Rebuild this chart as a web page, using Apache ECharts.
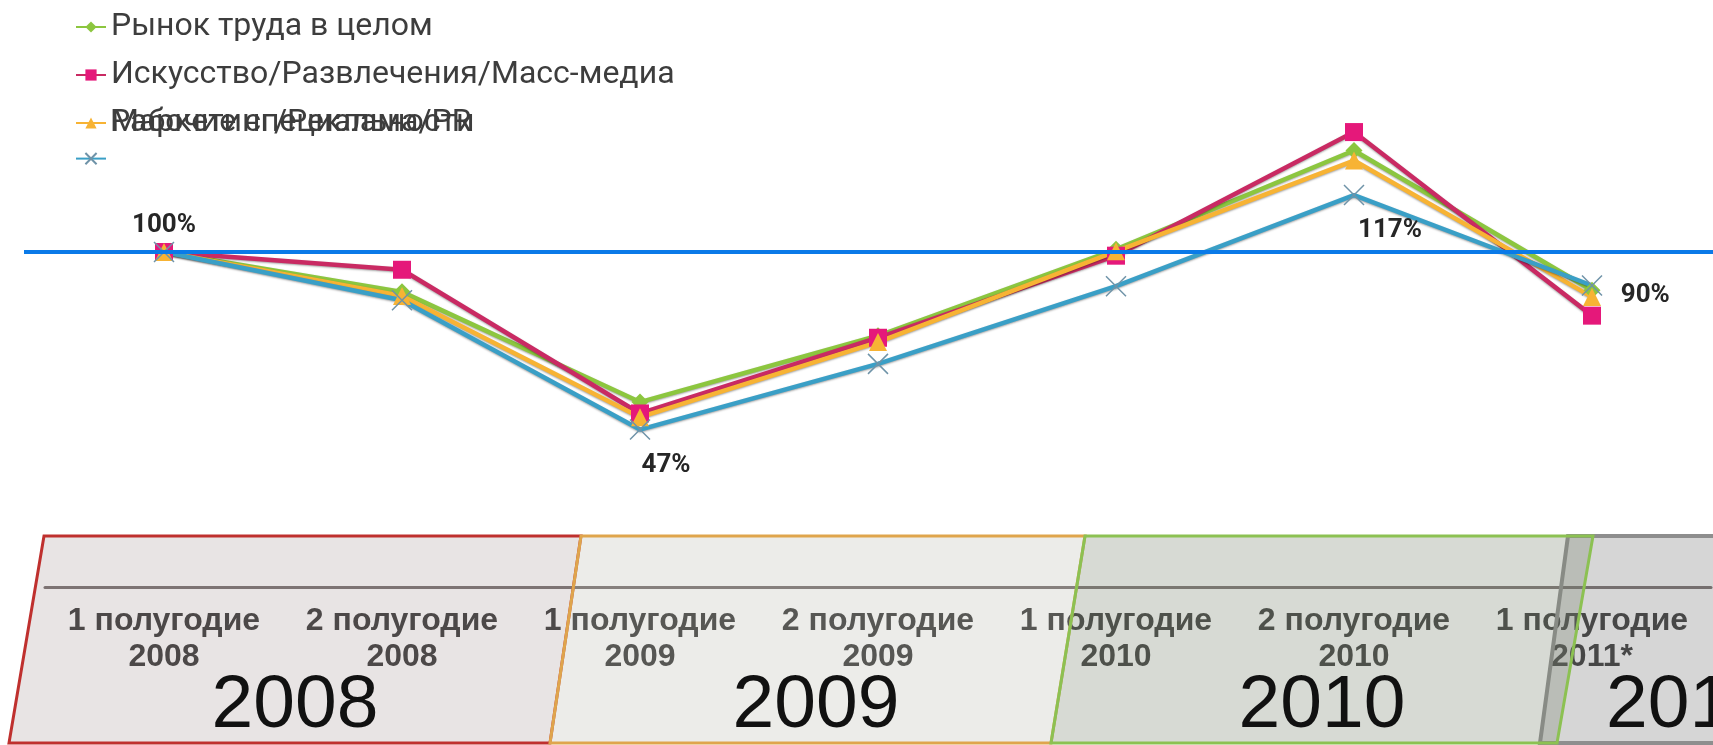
<!DOCTYPE html>
<html>
<head>
<meta charset="utf-8">
<script src="https://cdn.jsdelivr.net/npm/echarts@6/dist/echarts.min.js"></script>
<style>
  html, body { margin: 0; padding: 0; background: #fff; }
  #main { width: 1713px; height: 745px; }
</style>
</head>
<body>
<div id="main"></div>
<script>
// half-year periods on the x axis
const categories = ['1 полугодие\n2008', '2 полугодие\n2008', '1 полугодие\n2009', '2 полугодие\n2009',
                    '1 полугодие\n2010', '2 полугодие\n2010', '1 полугодие\n2011*'];
const seriesNames = ['Рынок труда в целом', 'Искусство/Развлечения/Масс-медиа',
                     'Маркетинг/Реклама/PR', 'Рабочие специальности'];
// index, 1 полугодие 2008 = 100%
const labourMarket = [100, 88.1, 55.2, 75.0, 100.8, 130.3, 88.6];
const artMedia     = [100, 94.7, 51.8, 74.4, 98.9, 135.8, 81.0];
const marketing    = [100, 86.9, 50.7, 73.1, 100.2, 127.3, 86.6];
const workers      = [100, 85.6, 47, 66.6, 89.8, 117, 90];
const baseLevel = 100;
const years = ['2008', '2009', '2010', '2011'];

const chart = echarts.init(document.getElementById('main'));

const yMin = 0, yMax = 150;
const gridTop = 84.5, gridBottom = 158;

// legend rows
const legTop = 3, legRowH = 38, legGap = 10;

// label placement for the points that carry a value
const labelPlace = {
  0: { position: 'top', distance: 3 },
  2: { position: 'bottom', distance: 12, offset: [26, 0] },
  5: { position: 'bottom', distance: 12, offset: [36, 0] },
  6: { position: 'right', distance: 18, offset: [0, 10] }
};

const workersData = workers.map((v, i) => {
  if (!labelPlace[i]) return v;
  return { value: v, label: Object.assign({ show: true }, labelPlace[i]) };
});

const xMark = 'path://M0,0L10,10M10,0L0,10';

function lineSeries(name, data, color, symbol, size, extra) {
  return Object.assign({
    name: name,
    type: 'line',
    data: data,
    xAxisIndex: 0,
    yAxisIndex: 0,
    symbol: symbol,
    symbolSize: size,
    lineStyle: { color: color, width: 4.5, shadowColor: 'rgba(0,0,0,0.35)', shadowBlur: 2, shadowOffsetY: 1 },
    itemStyle: { color: color },
    z: 3
  }, extra || {});
}

const panelFont = 'Liberation Sans, Arial, sans-serif';
const legendText = { fontFamily: 'Roboto', fontSize: 32, color: '#3d3d3d', lineHeight: legRowH };

chart.setOption({
  animation: false,
  backgroundColor: '#fff',
  legend: [
    {
      data: seriesNames,
      orient: 'vertical',
      left: 70,
      top: legTop,
      itemWidth: 30,
      itemHeight: 14,
      itemGap: legGap,
      selectedMode: false,
      formatter: function (name) { return name === seriesNames[3] ? '' : name; },
      textStyle: legendText
    },
    {
      // the 4th name is printed over the 3rd row, as in the original
      data: [seriesNames[3]],
      orient: 'vertical',
      left: 70,
      top: legTop + 2 * (legRowH + legGap),
      itemWidth: 30,
      itemHeight: 14,
      icon: 'none',
      selectedMode: false,
      textStyle: legendText
    }
  ],
  grid: [
    { left: 45, right: 2, top: gridTop, bottom: gridBottom },
    { left: 24, right: 0, top: gridTop, bottom: gridBottom }
  ],
  xAxis: [
    {
      type: 'category',
      data: categories,
      gridIndex: 0,
      axisLine: { show: true, lineStyle: { color: '#7a7272', width: 3 } },
      axisTick: { show: false },
      axisLabel: {
        interval: 0,
        margin: 16,
        fontFamily: panelFont,
        fontWeight: 'bold',
        fontSize: 32,
        lineHeight: 36,
        color: '#3c3c3c'
      },
      z: 0
    },
    { type: 'value', gridIndex: 1, min: 0, max: 1, show: false }
  ],
  yAxis: [
    { type: 'value', gridIndex: 0, min: yMin, max: yMax, show: false },
    { type: 'value', gridIndex: 1, min: yMin, max: yMax, show: false }
  ],
  series: [
    lineSeries(seriesNames[0], labourMarket, '#8cc63f', 'diamond', 17),
    lineSeries(seriesNames[1], artMedia, '#d9206f', 'rect', 18, { lineStyle: { color: '#c92a63', width: 4.5, shadowColor: 'rgba(0,0,0,0.35)', shadowBlur: 2, shadowOffsetY: 1 }, itemStyle: { color: '#e5187a' } }),
    lineSeries(seriesNames[2], marketing, '#f7b334', 'triangle', 18),
    lineSeries(seriesNames[3], workersData, '#3a9fc6', xMark, 20, {
      itemStyle: { color: '#3a9fc6', borderColor: '#6f93a8', borderWidth: 1.5 },
      label: { show: false, fontFamily: 'Roboto', fontSize: 26, fontWeight: 'bold', color: '#262626', formatter: p => Math.round(p.value) + '%' }
    }),
    {
      name: 'base',
      type: 'line',
      xAxisIndex: 1,
      yAxisIndex: 1,
      data: [[0, baseLevel], [1, baseLevel]],
      symbol: 'none',
      silent: true,
      lineStyle: { color: '#0a7ae8', width: 4 },
      z: 6
    }
  ],
  graphic: {
    elements: [
      // year panels (semi transparent, over the axis labels)
      { type: 'polygon', z: 10, silent: true, shape: { points: [[1568, 536], [1716, 536], [1716, 743], [1540, 743]] },
        style: { fill: 'rgba(105,105,105,0.27)', stroke: '#8e8e8e', lineWidth: 4 } },
      { type: 'polygon', z: 11, silent: true, shape: { points: [[44, 536], [581, 536], [550, 743], [9, 743]] },
        style: { fill: 'rgba(140,122,122,0.2)', stroke: '#bf302e', lineWidth: 3 } },
      { type: 'polygon', z: 12, silent: true, shape: { points: [[581, 536], [1085, 536], [1051, 743], [550, 743]] },
        style: { fill: 'rgba(175,175,165,0.24)', stroke: '#dfa54c', lineWidth: 3 } },
      { type: 'polygon', z: 13, silent: true, shape: { points: [[1085, 536], [1593, 536], [1557, 743], [1051, 743]] },
        style: { fill: 'rgba(122,132,114,0.30)', stroke: '#8cc152', lineWidth: 3 } },
      // big year captions
      { type: 'text', z: 20, silent: true, x: 295, y: 706, style: { text: years[0], fontFamily: panelFont, fontSize: 75, fill: '#111', align: 'center', verticalAlign: 'middle' } },
      { type: 'text', z: 20, silent: true, x: 816, y: 706, style: { text: years[1], fontFamily: panelFont, fontSize: 75, fill: '#111', align: 'center', verticalAlign: 'middle' } },
      { type: 'text', z: 20, silent: true, x: 1322, y: 706, style: { text: years[2], fontFamily: panelFont, fontSize: 75, fill: '#111', align: 'center', verticalAlign: 'middle' } },
      { type: 'text', z: 20, silent: true, x: 1606, y: 706, style: { text: years[3], fontFamily: panelFont, fontSize: 75, fill: '#111', align: 'left', verticalAlign: 'middle' } }
    ]
  }
});
</script>
</body>
</html>
